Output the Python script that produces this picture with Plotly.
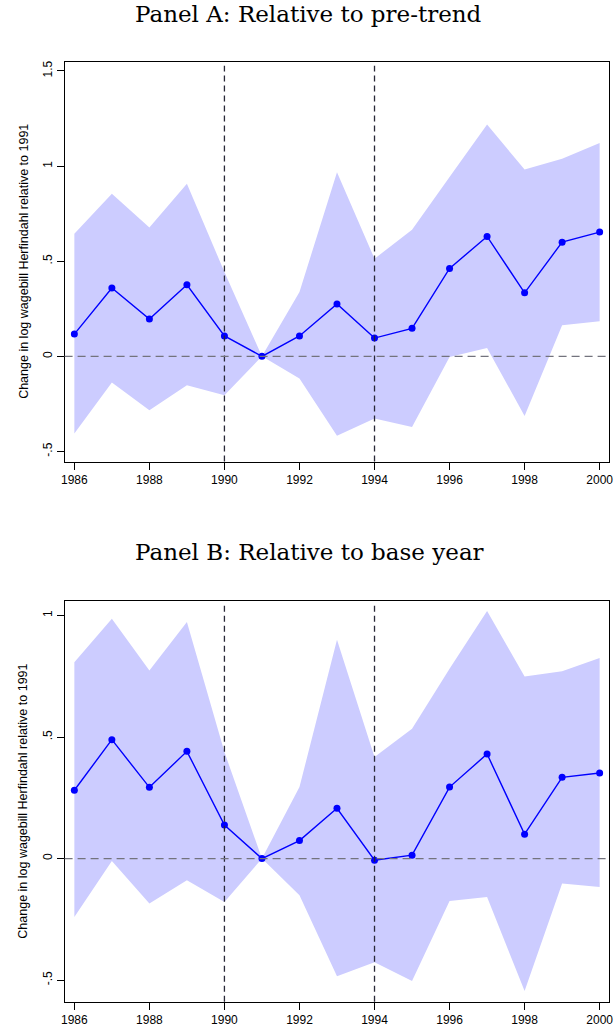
import plotly.graph_objects as go

years = list(range(1986, 2001))
event_years = [1990, 1994]

# Panel A: relative to pre-trend
a_coef = [0.117, 0.359, 0.196, 0.376, 0.107, 0.0, 0.107, 0.275, 0.096, 0.147, 0.462, 0.630, 0.334, 0.600, 0.653]
a_upper = [0.644, 0.854, 0.677, 0.907, 0.443, 0.0, 0.338, 0.968, 0.513, 0.665, 0.942, 1.218, 0.982, 1.038, 1.122]
a_lower = [-0.406, -0.138, -0.284, -0.152, -0.205, 0.0, -0.117, -0.418, -0.327, -0.371, -0.003, 0.044, -0.313, 0.163, 0.184]

# Panel B: relative to base year
b_coef = [0.281, 0.489, 0.293, 0.441, 0.138, 0.0, 0.074, 0.207, -0.007, 0.014, 0.294, 0.430, 0.100, 0.334, 0.352]
b_upper = [0.808, 0.986, 0.774, 0.973, 0.438, 0.0, 0.294, 0.900, 0.418, 0.534, 0.781, 1.018, 0.749, 0.770, 0.825]
b_lower = [-0.240, -0.010, -0.185, -0.089, -0.179, 0.0, -0.151, -0.484, -0.427, -0.504, -0.175, -0.158, -0.545, -0.103, -0.117]

titles = ["Panel A: Relative to pre-trend", "Panel B: Relative to base year"]
ytitle = "Change in log wagebill Herfindahl relative to 1991"
x_ticks = list(range(1986, 2001, 2))
a_yticks = [-0.5, 0, 0.5, 1, 1.5]
a_yticklabels = ["-.5", "0", ".5", "1", "1.5"]
b_yticks = [-0.5, 0, 0.5, 1]
b_yticklabels = ["-.5", "0", ".5", "1"]

W, H = 615, 1028
FILL = "rgb(204,204,255)"
BLUE = "rgb(0,0,255)"

fig = go.Figure()

panels = [
    (a_coef, a_upper, a_lower, "x", "y"),
    (b_coef, b_upper, b_lower, "x2", "y2"),
]
for coef, up, lo, xa, ya in panels:
    fig.add_trace(go.Scatter(x=years, y=lo, mode="lines", line=dict(width=0, color=FILL),
                             xaxis=xa, yaxis=ya, showlegend=False, hoverinfo="skip"))
    fig.add_trace(go.Scatter(x=years, y=up, mode="lines", line=dict(width=0, color=FILL),
                             fill="tonexty", fillcolor=FILL,
                             xaxis=xa, yaxis=ya, showlegend=False, hoverinfo="skip"))
    fig.add_trace(go.Scatter(x=years, y=coef, mode="lines+markers",
                             line=dict(color=BLUE, width=1.4),
                             marker=dict(color=BLUE, size=7),
                             xaxis=xa, yaxis=ya, showlegend=False))

def px_x(p):
    return p / W

def px_y(p):
    return 1 - p / H

axis_common = dict(showgrid=False, zeroline=False, showline=True, linecolor="black",
                   linewidth=1, mirror=True, ticks="outside", ticklen=7, tickcolor="black",
                   tickwidth=1, ticklabeloverflow="allow",
                   tickfont=dict(family="Liberation Sans, Arial", size=12, color="black"))

xdom = [px_x(62.3), px_x(613)]
fig.update_layout(
    width=W, height=H,
    margin=dict(l=0, r=0, t=0, b=0),
    paper_bgcolor="white", plot_bgcolor="white",
    xaxis=dict(domain=xdom, range=[1985.74, 2000.25], tickvals=x_ticks, anchor="y", **axis_common),
    yaxis=dict(domain=[px_y(461), px_y(60.7)], range=[-0.553, 1.549], tickvals=a_yticks,
               ticktext=a_yticklabels, tickangle=-90, anchor="x", **axis_common),
    xaxis2=dict(domain=xdom, range=[1985.74, 2000.25], tickvals=x_ticks, anchor="y2", **axis_common),
    yaxis2=dict(domain=[px_y(1001.7), px_y(600.7)], range=[-0.589, 1.059], tickvals=b_yticks,
                ticktext=b_yticklabels, tickangle=-90, anchor="x2", **axis_common),
)

shapes = []
for xa, ya in [("x", "y"), ("x2", "y2")]:
    for ey in event_years:
        shapes.append(dict(type="line", xref=xa, yref=f"{ya} domain", x0=ey, x1=ey, y0=0, y1=0.99,
                           line=dict(color="rgb(40,40,55)", width=1.3, dash="6px,4px"), layer="above"))
    shapes.append(dict(type="line", xref=f"{xa} domain", yref=ya, x0=0, x1=1, y0=0, y1=0,
                       line=dict(color="rgb(115,115,125)", width=1.3, dash="8px,5px"), layer="above"))
fig.update_layout(shapes=shapes)

annotations = [
    dict(text=titles[0], x=px_x(309), y=px_y(13), xref="paper", yref="paper",
         xanchor="center", yanchor="middle", showarrow=False,
         font=dict(family="DejaVu Serif", size=23, color="black")),
    dict(text=titles[1], x=px_x(310), y=px_y(552), xref="paper", yref="paper",
         xanchor="center", yanchor="middle", showarrow=False,
         font=dict(family="DejaVu Serif", size=23, color="black")),
    dict(text=ytitle, x=px_x(20.5), y=px_y((60.7 + 461) / 2), xref="paper", yref="paper",
         textangle=-90, xanchor="center", yanchor="middle", showarrow=False,
         font=dict(family="Liberation Sans, Arial", size=12.5, color="black")),
    dict(text=ytitle, x=px_x(20.5), y=px_y((600.7 + 1001.7) / 2), xref="paper", yref="paper",
         textangle=-90, xanchor="center", yanchor="middle", showarrow=False,
         font=dict(family="Liberation Sans, Arial", size=12.5, color="black")),
]
fig.update_layout(annotations=annotations)

fig.write_html("out.html", config={"displayModeBar": False},
               post_script="document.body.style.margin='0px';")
